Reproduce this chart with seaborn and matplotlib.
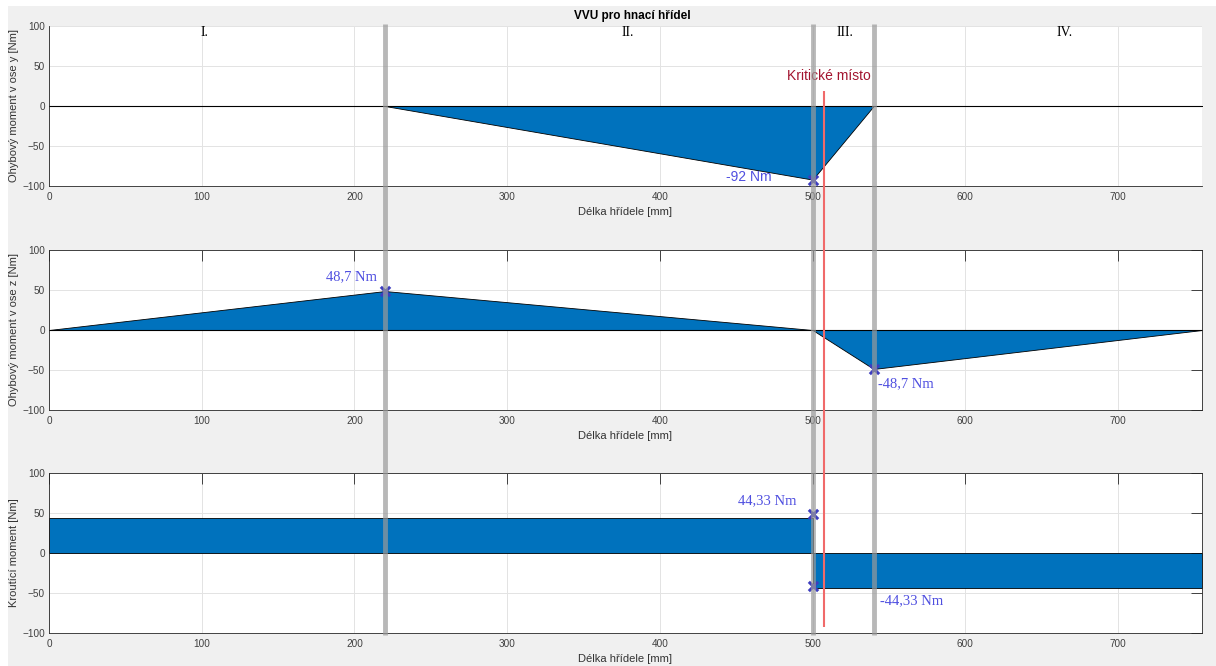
import numpy as np
import pandas as pd
import matplotlib
matplotlib.use('Agg')
import matplotlib.pyplot as plt
import matplotlib.transforms as mtransforms
from matplotlib.lines import Line2D
from matplotlib.patches import Rectangle
import seaborn as sns

# Data
x_ohyb = [0, 220, 500, 540, 755]
m_osa_y = [0, 0, -92, 0, 0]
m_osa_z = [0, 48.7, 0, -48.7, 0]

x_krout = [0, 500, 500, 755]
m_krout = [44.33, 44.33, -44.33, -44.33]

# annotated points
bod_y_x = [500]
bod_y_m = [-92]
bod_z_x = [220, 540]
bod_z_m = [48.7, -48.7]
bod_k_x = [500, 500]
bod_k_m = [48.7, -41]

hranice = [220, 500, 540]       # section borders
kriticke_misto = 507.5
useky = ['I.', 'II.', 'III.', 'IV.']
useky_x = [102, 379, 521, 665]

sns.set_style('whitegrid')
plt.rcParams['font.family'] = ['Liberation Sans', 'DejaVu Sans']

modra = '#0072BD'
znacka = '#3d3dbf'
popis = '#4f4fe0'
osa = '#262626'
sans = ['Liberation Sans', 'DejaVu Sans']
serif = ['Liberation Serif', 'DejaVu Serif']

fig = plt.figure(figsize=(12.16, 6.66), dpi=100, facecolor='white')
fig.add_artist(Rectangle((8 / 1216, 0), 1, 1 - 6 / 666, transform=fig.transFigure,
                         facecolor='#f0f0f0', edgecolor='none', zorder=-10))

left = 49 / 1216
width = (1202 - 49) / 1216
h = 160 / 666
ax1 = fig.add_axes([left, 1 - 186 / 666, width, h])
ax2 = fig.add_axes([left, 1 - 410 / 666, width, h])
ax3 = fig.add_axes([left, 1 - 633 / 666, width, h])

ylabels = ['Ohybový moment v ose y [Nm]', 'Ohybový moment v ose z [Nm]', 'Kroutící moment [Nm]']

for ax, yl in zip([ax1, ax2, ax3], ylabels):
    ax.set_facecolor('white')
    ax.set_xlim(0, 755)
    ax.set_ylim(-100, 100)
    ax.set_xticks(np.arange(0, 800, 100))
    ax.set_yticks([-100, -50, 0, 50, 100])
    ax.grid(True, color='#e3e3e3', linewidth=0.7)
    ax.set_axisbelow(True)
    ax.tick_params(direction='in', length=8, width=0.6, color=osa,
                   labelcolor='#404040', labelsize=7.2, top=True, right=True)
    ax.tick_params(axis='x', pad=4)
    ax.tick_params(axis='y', pad=3)
    for s in ax.spines.values():
        s.set_color(osa)
        s.set_linewidth(0.6)
    ax.set_xlabel('Délka hřídele [mm]', fontsize=8, color='#333333')
    ax.set_ylabel(yl, fontsize=8, color='#333333')
    ax.xaxis.set_label_coords(0.5, -0.13)
    ax.yaxis.set_label_coords(-0.026, 0.5)

# first axes has no box
ax1.spines['top'].set_visible(False)
ax1.spines['right'].set_visible(False)
ax1.tick_params(top=False, right=False)

# bending moment y
ax1.fill_between(x_ohyb, m_osa_y, 0, facecolor=modra, edgecolor='black', linewidth=0.6)
ax1.axhline(0, color='black', linewidth=0.8)
sns.scatterplot(x=bod_y_x, y=bod_y_m, ax=ax1, marker='x', s=45, linewidth=2.2,
                color=znacka, zorder=5, clip_on=False)
ax1.text(473, -89, '-92 Nm', color=popis, fontsize=10, family=sans, ha='right', va='center')
ax1.text(511, 37, 'Kritické místo', color='#A2142F', fontsize=10, family=sans,
         ha='center', va='center')
for t, xx in zip(useky, useky_x):
    ax1.text(xx, 92, t, family=serif, fontsize=10, ha='center', va='center', color='black')

# bending moment z
ax2.fill_between(x_ohyb, m_osa_z, 0, facecolor=modra, edgecolor='black', linewidth=0.6)
ax2.axhline(0, color='black', linewidth=0.8)
sns.scatterplot(x=bod_z_x, y=bod_z_m, ax=ax2, marker='x', s=45, linewidth=2.2,
                color=znacka, zorder=5)
ax2.text(198, 67, '48,7 Nm', color=popis, fontsize=10.5, family=serif, ha='center', va='center')
ax2.text(543, -67, '-48,7 Nm', color=popis, fontsize=10.5, family=serif, ha='left', va='center')

# torque
ax3.fill_between(x_krout, m_krout, 0, facecolor=modra, edgecolor='black', linewidth=0.6)
sns.scatterplot(x=bod_k_x, y=bod_k_m, ax=ax3, marker='x', s=45, linewidth=2.2,
                color=znacka, zorder=5)
ax3.text(470, 65, '44,33 Nm', color=popis, fontsize=10.5, family=serif, ha='center', va='center')
ax3.text(544, -60, '-44,33 Nm', color=popis, fontsize=10.5, family=serif, ha='left', va='center')

# section borders and critical spot across all plots
tr = mtransforms.blended_transform_factory(ax1.transData, fig.transFigure)
for xx in hranice:
    fig.add_artist(Line2D([xx, xx], [1 - 24 / 666, 1 - 635 / 666], transform=tr,
                          color='#9a9a9a', alpha=0.7, linewidth=3.5,
                          solid_capstyle='butt', zorder=3))
fig.add_artist(Line2D([kriticke_misto, kriticke_misto], [1 - 91 / 666, 1 - 627 / 666],
                      transform=tr, color='#f06a6a', linewidth=1.5,
                      solid_capstyle='butt', zorder=4))

fig.text(632 / 1216, 1 - 16 / 666, 'VVU pro hnací hřídel', fontsize=8.5, fontweight='bold',
         family=sans, ha='center', va='center', color='black')

fig.savefig('out.png', dpi=100)
